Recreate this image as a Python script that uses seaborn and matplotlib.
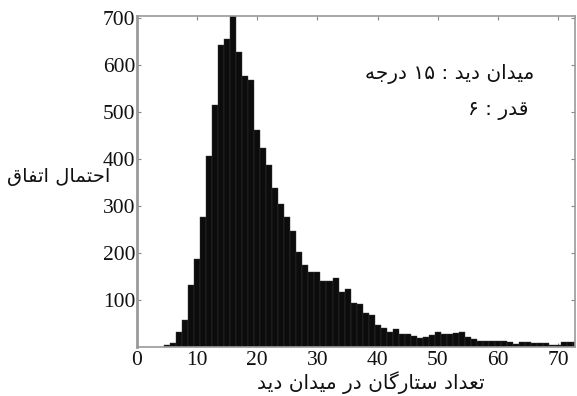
import numpy as np
import pandas as pd
import matplotlib
matplotlib.use("Agg")
import matplotlib.pyplot as plt
import seaborn as sns

# ---- data ----
star_counts = [5, 6, 7, 8, 9, 10, 11, 12, 13, 14, 15, 16, 17, 18, 19, 20, 21, 22, 23, 24,
               25, 26, 27, 28, 29, 30, 31, 32, 33, 34, 35, 36, 37, 38, 39, 40, 41, 42, 43, 44,
               45, 46, 47, 48, 49, 50, 51, 52, 53, 54, 55, 56, 57, 58, 59, 60, 61, 62, 63, 64,
               65, 66, 67, 68, 69, 70, 71, 72, 73]
occurrences = [4, 8, 32, 57, 131, 186, 276, 405, 515, 643, 655, 740, 627, 577, 567, 461, 422, 386, 337, 303,
               277, 247, 202, 174, 160, 158, 140, 139, 147, 117, 123, 92, 90, 72, 67, 47, 40, 32, 38, 28,
               26, 22, 18, 20, 25, 31, 28, 28, 29, 31, 21, 17, 13, 13, 13, 12, 12, 11, 5, 9,
               9, 8, 8, 7, 4, 4, 9, 9, 9]
x_ticks = [0, 10, 20, 30, 40, 50, 60, 70]
y_ticks = [100, 200, 300, 400, 500, 600, 700]

x_label = "تعداد ستارگان در میدان دید"
y_label = "احتمال اتفاق"
note_fov = "میدان دید : ۱۵ درجه"
note_mag = "قدر : ۶"

# ---- minimal Arabic/Persian shaping (matplotlib has no bidi / shaping) ----
FORMS = {  # isolated, final, initial, medial
    'ا': ('\uFE8D', '\uFE8E', None, None),
    'ح': ('\uFEA1', '\uFEA2', '\uFEA3', '\uFEA4'),
    'ت': ('\uFE95', '\uFE96', '\uFE97', '\uFE98'),
    'م': ('\uFEE1', '\uFEE2', '\uFEE3', '\uFEE4'),
    'ل': ('\uFEDD', '\uFEDE', '\uFEDF', '\uFEE0'),
    'ف': ('\uFED1', '\uFED2', '\uFED3', '\uFED4'),
    'ق': ('\uFED5', '\uFED6', '\uFED7', '\uFED8'),
    'ع': ('\uFEC9', '\uFECA', '\uFECB', '\uFECC'),
    'د': ('\uFEA9', '\uFEAA', None, None),
    'س': ('\uFEB1', '\uFEB2', '\uFEB3', '\uFEB4'),
    'ر': ('\uFEAD', '\uFEAE', None, None),
    'گ': ('\uFB92', '\uFB93', '\uFB94', '\uFB95'),
    'ن': ('\uFEE5', '\uFEE6', '\uFEE7', '\uFEE8'),
    'ی': ('\uFBFC', '\uFBFD', '\uFBFE', '\uFBFF'),
    'ج': ('\uFE9D', '\uFE9E', '\uFE9F', '\uFEA0'),
    'ه': ('\uFEE9', '\uFEEA', '\uFEEB', '\uFEEC'),
}


def shape(text):
    out = []
    n = len(text)
    for i, ch in enumerate(text):
        if ch not in FORMS:
            out.append(ch)
            continue
        f = FORMS[ch]
        prev = text[i - 1] if i > 0 else ''
        nxt = text[i + 1] if i + 1 < n else ''
        prev_joins = prev in FORMS and FORMS[prev][2] is not None
        next_joins = nxt in FORMS and f[2] is not None
        if prev_joins and next_joins:
            out.append(f[3])
        elif prev_joins:
            out.append(f[1])
        elif next_joins:
            out.append(f[2])
        else:
            out.append(f[0])
    s = ''.join(out)[::-1]
    # keep digit runs left-to-right
    res, run = [], []
    for ch in s:
        if ch.isdigit():
            run.append(ch)
        else:
            if run:
                res.extend(run[::-1]); run = []
            res.append(ch)
    if run:
        res.extend(run[::-1])
    return ''.join(res)


# ---- plot ----
sns.set_style("ticks")
plt.rcParams['font.family'] = ['Liberation Serif', 'DejaVu Sans']

df = pd.DataFrame({"stars": star_counts, "count": occurrences})

fig = plt.figure(figsize=(5.77, 3.96), dpi=100)
ax = fig.add_axes([0.2374, 0.1245, 0.7591, 0.8351])

sns.histplot(data=df, x="stars", weights="count", discrete=True,
             color="#0c0c0c", edgecolor="#3a3a3a", linewidth=0.3, alpha=1.0, ax=ax)

ax.set_xlim(0, 72.8)
ax.set_ylim(0, 704)
ax.set_xticks(x_ticks)
ax.set_yticks(y_ticks)
ax.set_xlabel("")
ax.set_ylabel("")
ax.tick_params(direction="in", length=3, width=0.8, color="#888888",
               top=True, right=True, labelsize=15.5, labelcolor="#111111")
ax.tick_params(axis="x", pad=3)
ax.tick_params(axis="y", pad=1)
for sp in ax.spines.values():
    sp.set_visible(True)
    sp.set_color("#9a9a9a")
    sp.set_linewidth(1.2)
ax.spines["left"].set_linewidth(2.0)

ar = ['DejaVu Sans']
fig.text(59 / 577, 1 - 176 / 396, shape(y_label), family=ar, fontsize=14,
         ha="center", va="center", color="#111111")
fig.text(371 / 577, 1 - 383 / 396, shape(x_label), family=ar, fontsize=14.5,
         ha="center", va="center", color="#111111")
fig.text(450 / 577, 1 - 74 / 396, shape(note_fov), family=ar, fontsize=14.5,
         ha="center", va="center", color="#111111")
fig.text(498 / 577, 1 - 110 / 396, shape(note_mag), family=ar, fontsize=14.5,
         ha="center", va="center", color="#111111")

fig.savefig("out.png", dpi=100)
